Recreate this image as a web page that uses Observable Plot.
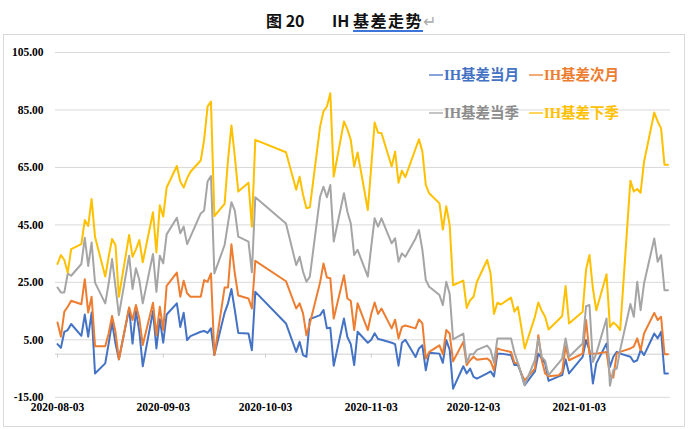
<!DOCTYPE html>
<html><head><meta charset="utf-8">
<script src="https://cdn.jsdelivr.net/npm/d3@7"></script>
<script src="https://cdn.jsdelivr.net/npm/@observablehq/plot@0.6"></script>
<style>
html,body{margin:0;padding:0;background:#fff;}
body{width:689px;height:430px;position:relative;overflow:hidden;font-family:"Noto Sans CJK SC",sans-serif;}
#frame{position:absolute;left:3px;top:34px;width:682px;height:393px;border:1px solid #d9d9d9;box-sizing:border-box;}
#chart{position:absolute;left:0;top:34px;}
.t{position:absolute;font-size:16px;line-height:16px;font-weight:bold;color:#111;white-space:pre;font-family:"Noto Sans CJK SC",sans-serif;}
.u{text-decoration:underline;text-decoration-color:#3d74d9;text-decoration-thickness:1.5px;text-underline-offset:3px;letter-spacing:1.5px;}
.leg{position:absolute;font-size:14.5px;line-height:15px;font-weight:bold;white-space:nowrap;font-family:"Liberation Serif","Noto Sans CJK SC",serif;}
.dash{position:absolute;width:14px;height:2px;}
</style></head>
<body>
<div id="frame"></div>
<div id="chart"></div>
<div class="t" style="left:266px;top:12px;">图 20</div>
<div class="t" style="left:332px;top:12px;">IH <span class="u">基差走势</span><span style="color:#aaa;font-weight:normal">↵</span></div>
<div id="legend"></div>
<script>
const dates = [
"2020-08-03","2020-08-04","2020-08-05","2020-08-06","2020-08-07","2020-08-10","2020-08-11","2020-08-12","2020-08-13","2020-08-14","2020-08-17","2020-08-18","2020-08-19","2020-08-20","2020-08-21","2020-08-24","2020-08-25","2020-08-26","2020-08-27","2020-08-28","2020-08-31",
"2020-09-01","2020-09-02","2020-09-03","2020-09-04","2020-09-07","2020-09-08","2020-09-09","2020-09-10","2020-09-11","2020-09-14","2020-09-15","2020-09-16","2020-09-17","2020-09-18","2020-09-21","2020-09-22","2020-09-23","2020-09-24","2020-09-25","2020-09-28","2020-09-29","2020-09-30",
"2020-10-09","2020-10-12","2020-10-13","2020-10-14","2020-10-15","2020-10-16","2020-10-19","2020-10-20","2020-10-21","2020-10-22","2020-10-23","2020-10-26","2020-10-27","2020-10-28","2020-10-29","2020-10-30",
"2020-11-02","2020-11-03","2020-11-04","2020-11-05","2020-11-06","2020-11-09","2020-11-10","2020-11-11","2020-11-12","2020-11-13","2020-11-16","2020-11-17","2020-11-18","2020-11-19","2020-11-20","2020-11-23","2020-11-24","2020-11-25","2020-11-26","2020-11-27","2020-11-30",
"2020-12-01","2020-12-02","2020-12-03","2020-12-04","2020-12-07","2020-12-08","2020-12-09","2020-12-10","2020-12-11","2020-12-14","2020-12-15","2020-12-16","2020-12-17","2020-12-18","2020-12-21","2020-12-22","2020-12-23","2020-12-24","2020-12-25","2020-12-28","2020-12-29","2020-12-30","2020-12-31",
"2021-01-04","2021-01-05","2021-01-06","2021-01-07","2021-01-08","2021-01-11","2021-01-12","2021-01-13","2021-01-14","2021-01-15","2021-01-18","2021-01-19","2021-01-20","2021-01-21","2021-01-22","2021-01-25","2021-01-26","2021-01-27","2021-01-28","2021-01-29"
];
// IH基差当月
const dangyue = [
3.5,2.2,7.8,8.4,10.5,6.4,13.8,6.1,14.5,-6.7,-3.2,3.7,11.0,3.7,-1.8,15.9,3.7,15.0,7.8,-4.2,15.0,
2.0,12.2,4.0,13.8,17.7,9.5,14.4,4.9,6.3,7.8,8.1,7.4,9.0,-0.3,14.4,17.7,22.7,15.3,7.4,7.2,1.4,21.7,
10.7,0.8,4.3,-0.3,-0.9,12.2,13.6,15.4,9.0,9.2,-4.0,12.4,6.0,3.5,-3.8,7.8,
4.0,5.0,7.3,5.3,5.0,4.0,3.5,-4.0,4.0,5.0,-1.0,2.0,3.1,-5.6,0.5,0.2,-3.0,4.9,1.6,-12.0,-4.2,
-6.7,-5.0,-7.9,-8.5,-6.7,-6.0,-7.7,0.2,0.2,-0.3,-3.8,-3.8,-6.7,-10.8,-6.0,0.2,-1.5,-3.2,-9.3,-7.7,-7.3,-1.8,-6.7,
-0.9,4.9,1.4,-10.2,-3.2,3.7,-4.4,-0.9,0.8,0.2,-0.9,-2.7,-2.1,1.4,-0.3,7.2,5.5,7.8,-6.7,-6.7
];
// IH基差次月
const ciyue = [
11.0,6.1,14.8,16.5,18.6,17.4,26.1,14.5,20.0,2.8,2.8,7.2,13.3,7.8,-1.8,16.3,11.9,17.1,12.4,3.2,17.9,
6.6,16.5,8.4,23.8,28.4,20.0,25.6,21.2,20.0,20.0,25.8,25.2,28.1,-0.3,23.2,23.2,38.3,28.0,20.4,19.4,15.9,32.5,
25.4,15.9,17.7,14.2,6.6,10.7,25.0,31.6,26.7,26.4,12.4,27.5,19.4,18.6,8.4,17.7,
8.4,14.0,18.0,14.0,15.9,9.0,12.0,5.5,9.5,10.0,9.0,12.1,10.7,-1.5,0.8,3.1,0.0,8.4,7.2,-2.5,4.3,
-3.8,-2.1,-0.9,-1.9,-1.5,-2.5,-5.6,2.0,1.6,0.8,-3.0,-3.2,-6.7,-9.1,-5.0,6.6,-2.1,-6.7,-7.7,-7.3,-6.1,2.8,-2.1,
0.2,11.9,0.2,0.2,0.2,0.8,-7.5,-8.1,0.2,0.8,2.0,2.6,5.5,1.4,7.2,14.4,11.9,13.0,0.0,0.0
];
// IH基差当季
const dangji = [
23.2,21.5,21.5,28.1,27.3,31.4,40.5,30.7,38.9,24.9,17.7,24.6,33.1,23.5,13.6,34.3,22.7,29.9,25.8,17.7,34.9,
21.7,34.3,31.6,41.7,47.5,42.1,44.4,38.3,40.9,49.0,50.0,60.1,62.0,28.1,38.0,45.5,52.9,50.0,40.9,39.2,28.5,54.6,
45.5,31.0,33.9,28.7,25.2,27.0,54.8,58.3,54.6,58.9,39.2,56.0,49.6,45.5,34.5,36.3,
27.0,37.4,47.3,44.4,47.3,38.6,40.3,32.2,35.1,33.9,40.3,43.2,36.3,25.8,23.5,20.6,17.1,25.2,21.0,5.2,7.2,
-3.0,0.0,0.0,1.5,3.0,1.5,-3.0,5.5,5.5,5.5,0.5,-3.0,-7.0,-10.8,-2.0,5.5,-0.9,-2.3,-7.3,-3.0,-1.5,5.5,-0.9,
3.7,16.7,17.1,-2.7,0.2,12.4,-11.0,-5.5,-5.0,1.5,17.5,13.0,25.2,15.3,24.6,40.3,32.2,34.5,22.3,22.3
];
// IH基差下季
const xiaji = [
31.4,34.5,32.8,28.4,36.6,38.3,46.7,44.6,54.0,40.9,27.0,33.9,40.1,38.0,20.0,41.5,33.9,36.5,39.7,32.0,49.4,
35.4,51.8,47.9,58.0,65.5,60.1,58.0,61.2,63.5,67.4,74.6,86.2,87.9,48.1,52.3,67.6,79.6,68.8,56.6,59.7,44.4,74.6,
70.3,57.2,61.8,55.5,50.8,51.1,79.2,84.5,86.2,90.8,61.8,81.0,78.3,74.6,65.3,70.2,
50.2,65.3,80.6,77.1,77.0,65.3,70.5,59.7,63.9,61.6,71.5,74.8,70.5,58.9,56.0,52.5,43.4,51.5,45.0,24.0,25.6,
16.1,18.8,20.0,25.2,32.8,28.1,14.0,17.9,17.3,19.7,14.8,16.5,9.5,2.0,13.0,18.0,15.1,13.0,8.6,12.1,13.3,23.7,10.7,
14.8,29.5,34.5,22.9,15.3,27.8,9.5,11.0,10.0,8.4,60.4,56.6,57.5,56.2,67.0,84.1,81.0,78.6,65.9,65.9
];
const seriesNames = ["IH基差当月","IH基差次月","IH基差当季","IH基差下季"];
const seriesColors = ["#4472C4","#ED7D31","#A5A5A5","#FFC000"];
const legendTextColors = ["#4472C4","#ED7D31","#8C8C8C","#FFC000"];
const yTicks = [-15,5,25,45,65,85,105];
const xTickLabels = ["2020-08-03","2020-09-03","2020-10-03","2020-11-03","2020-12-03","2021-01-03"];

const parse = d3.utcParse("%Y-%m-%d");
const DAY = 864e5;
const allSeries = [dangyue, ciyue, dangji, xiaji];
const tables = allSeries.map((arr, i) => arr.map((v, j) => ({date: parse(dates[j]), value: v, series: seriesNames[i]})));
const xTickDates = xTickLabels.map(parse);
const x0 = new Date(+parse(dates[0]) - 0.59 * DAY);
const x1 = new Date(+parse(dates[dates.length - 1]) + 0.76 * DAY);
const axisFont = {fontFamily: "Liberation Serif, serif", fontWeight: "bold", fontSize: 11.5, fill: "#000"};

const chart = Plot.plot({
  width: 689, height: 396,
  marginLeft: 55, marginRight: 19, marginTop: 18, marginBottom: 33.2,
  x: {type: "utc", domain: [x0, x1], axis: null},
  y: {domain: [-15, 105], axis: null},
  marks: [
    Plot.ruleY(yTicks, {stroke: "#d9d9d9", strokeWidth: 1}),
    Plot.ruleY([0], {stroke: "#cfcfcf", strokeWidth: 1}),
    Plot.ruleX(xTickDates, {y1: 0, y2: -1.4, stroke: "#cfcfcf", strokeWidth: 1}),
    Plot.text(yTicks, {y: d => d, frameAnchor: "left", dx: -12, textAnchor: "end", text: d => d.toFixed(2), ...axisFont}),
    Plot.text(xTickDates, {x: d => d, frameAnchor: "bottom", dy: 13.2, text: (d, i) => xTickLabels[i], ...axisFont}),
    ...tables.map((t, i) => Plot.lineY(t, {x: "date", y: "value", stroke: seriesColors[i], strokeWidth: 2, strokeLinejoin: "round", curve: "linear"}))
  ]
});
document.getElementById("chart").appendChild(chart);

// legend inside the plot area
const legPos = [[429, 75], [529, 75], [429, 113], [529, 113]];
const leg = document.getElementById("legend");
seriesNames.forEach((name, i) => {
  const [lx, ly] = legPos[i];
  const d = document.createElement("div");
  d.className = "dash";
  d.style.left = lx + "px"; d.style.top = (ly - 1) + "px";
  d.style.background = seriesColors[i]; d.style.opacity = "0.65";
  leg.appendChild(d);
  const s = document.createElement("div");
  s.className = "leg";
  s.style.left = (lx + 15) + "px"; s.style.top = (ly - 7.5) + "px";
  s.style.color = legendTextColors[i];
  s.textContent = name;
  leg.appendChild(s);
});
</script>
</body></html>
